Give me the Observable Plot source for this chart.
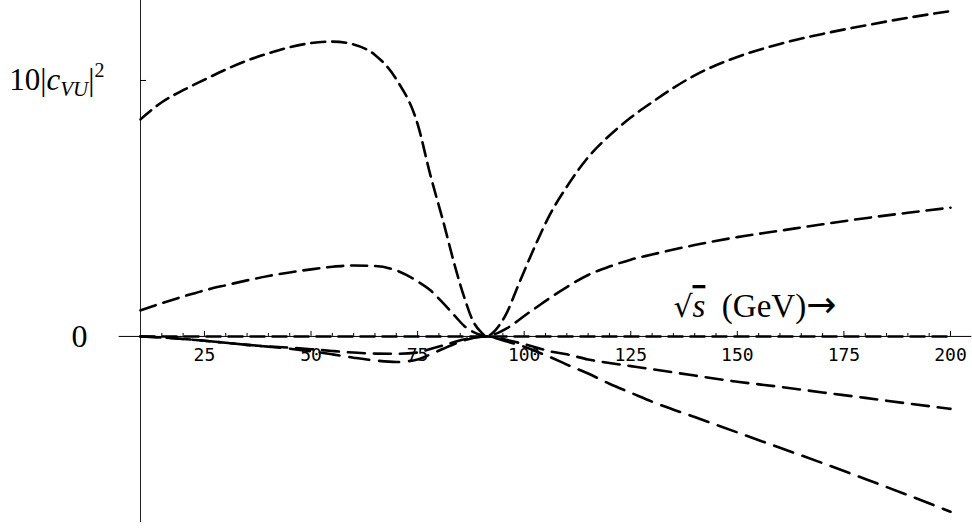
<!DOCTYPE html>
<html>
<head>
<meta charset="utf-8">
<script src="https://cdn.jsdelivr.net/npm/d3@7"></script>
<script src="https://cdn.jsdelivr.net/npm/@observablehq/plot@0.6"></script>
<style>
  html, body { margin: 0; padding: 0; background: #fff; }
  #chart { width: 972px; height: 529px; }
</style>
</head>
<body>
<div id="chart"></div>
<script>
// ---- data ----
const sqrtS = [10, 15, 20, 25, 30, 35, 40, 45, 50, 55, 60, 65, 70, 75, 78, 81, 84, 86, 88, 90, 91.2, 92.5, 94, 96, 98, 100, 103, 106, 110, 115, 120, 125, 130, 140, 150, 160, 170, 180, 190, 200];

const curveA = [0.848, 0.915, 0.962, 1.003, 1.043, 1.078, 1.106, 1.130, 1.146, 1.152, 1.141, 1.100, 1.005, 0.830, 0.630, 0.450, 0.260, 0.150, 0.060, 0.015, 0.000, 0.012, 0.040, 0.095, 0.175, 0.255, 0.370, 0.475, 0.585, 0.700, 0.785, 0.855, 0.915, 1.020, 1.092, 1.143, 1.182, 1.215, 1.245, 1.271];

const curveB = [0.102, 0.130, 0.156, 0.180, 0.200, 0.219, 0.236, 0.250, 0.262, 0.272, 0.277, 0.275, 0.258, 0.215, 0.180, 0.130, 0.075, 0.040, 0.018, 0.005, 0.000, 0.006, 0.015, 0.032, 0.055, 0.080, 0.115, 0.150, 0.193, 0.240, 0.273, 0.300, 0.320, 0.357, 0.388, 0.413, 0.438, 0.462, 0.483, 0.503];

const curveZero = [0, 0, 0, 0, 0, 0, 0, 0, 0, 0, 0, 0, 0, 0, 0, 0, 0, 0, 0, 0, 0, 0, 0, 0, 0, 0, 0, 0, 0, 0, 0, 0, 0, 0, 0, 0, 0, 0, 0, 0];

const curveD = [0.000, -0.004, -0.010, -0.017, -0.025, -0.033, -0.039, -0.044, -0.050, -0.057, -0.063, -0.067, -0.068, -0.063, -0.049, -0.035, -0.020, -0.011, -0.004, -0.001, 0.000, -0.002, -0.006, -0.014, -0.022, -0.030, -0.044, -0.058, -0.070, -0.090, -0.104, -0.116, -0.128, -0.153, -0.177, -0.197, -0.219, -0.240, -0.262, -0.283];

const curveE = [0.000, -0.004, -0.010, -0.017, -0.025, -0.033, -0.040, -0.048, -0.058, -0.070, -0.083, -0.094, -0.100, -0.090, -0.070, -0.048, -0.027, -0.015, -0.006, -0.001, 0.000, -0.003, -0.010, -0.020, -0.030, -0.040, -0.060, -0.080, -0.110, -0.145, -0.185, -0.220, -0.255, -0.315, -0.375, -0.435, -0.495, -0.557, -0.620, -0.685];

const majorTicks = [25, 50, 75, 100, 125, 150, 175, 200];
const minorTicks = [15, 20, 30, 35, 40, 45, 55, 60, 65, 70, 80, 85, 90, 95, 105, 110, 115, 120, 130, 135, 140, 145, 155, 160, 165, 170, 180, 185, 190, 195];
const yTickZeroLabel = "0";
const yTickOneLabel = "10|cVU|2";
const xAxisLabel = "√s (GeV)→";

// ---- layout ----
const W = 972, H = 529;
const marginTop = 0, marginBottom = 7, marginLeft = 140, marginRight = 22;
const xDomain = [10, 200];
const yDomain = [-0.727, 1.3125];
const pxPerY = (H - marginTop - marginBottom) / (yDomain[1] - yDomain[0]);
const pxPerX = (W - marginLeft - marginRight) / (xDomain[1] - xDomain[0]);
const xAxisExtent = [5, 205];

const series = [
  {values: curveA, dash: "14,7"},
  {values: curveB, dash: "16,8"},
  {values: curveZero, dash: "14,8"},
  {values: curveD, dash: "17,9"},
  {values: curveE, dash: "20,10"}
];

const lineMarks = series.map(s =>
  Plot.line(sqrtS.map((x, i) => ({x, y: s.values[i]})), {
    x: "x", y: "y", stroke: "#000", strokeWidth: 2.6,
    strokeDasharray: s.dash, curve: "monotone-x"
  })
);

const serif = "'Liberation Serif', 'DejaVu Serif', serif";
const mono = "'DejaVu Sans Mono', 'Liberation Mono', monospace";

const chart = Plot.plot({
  width: W, height: H,
  marginTop, marginBottom, marginLeft, marginRight,
  x: {domain: xDomain, axis: null},
  y: {domain: yDomain, axis: null},
  style: {background: "#fff", overflow: "visible"},
  marks: [
    // axis lines
    Plot.ruleY([0], {x1: xAxisExtent[0], x2: xAxisExtent[1], stroke: "#000", strokeWidth: 1}),
    Plot.ruleX([xDomain[0]], {stroke: "#222", strokeWidth: 1}),
    // x ticks (pointing up)
    Plot.ruleX(minorTicks, {x: d => d, y1: 0, y2: 3 / pxPerY, stroke: "#000", strokeWidth: 1}),
    Plot.ruleX(majorTicks, {x: d => d, y1: 0, y2: 5 / pxPerY, stroke: "#000", strokeWidth: 1}),
    // y tick at 1
    Plot.ruleY([1], {x1: xDomain[0], x2: xDomain[0] + 6 / pxPerX, stroke: "#000", strokeWidth: 1}),
    // curves
    ...lineMarks,
    // x tick labels
    Plot.text(majorTicks, {x: d => d, y: 0, dy: 19, text: d => String(d), fontFamily: mono, fontSize: 18, fill: "#000", lineAnchor: "middle"}),
    // y tick labels
    Plot.text([yTickZeroLabel], {x: xDomain[0], y: 0, dx: -53, text: d => d, textAnchor: "end", fontFamily: serif, fontSize: 32, fill: "#000", lineAnchor: "middle"}),
    Plot.text([yTickOneLabel], {x: xDomain[0], y: 1, dx: -36, text: d => d, textAnchor: "end", fontFamily: serif, fontSize: 31, fill: "#000", lineAnchor: "middle"}),
    // x axis label
    Plot.text([xAxisLabel], {x: 135, y: 0, dy: -30, text: d => d, textAnchor: "start", fontFamily: serif, fontSize: 33, fill: "#000", lineAnchor: "middle"})
  ]
});

// rich-text formatting of labels
const svg = d3.select(chart);
svg.selectAll("text").each(function () {
  const t = d3.select(this);
  const s = this.textContent;
  if (s === yTickOneLabel) {
    t.text(null);
    t.append("tspan").text("10|");
    t.append("tspan").attr("font-style", "italic").text("c");
    t.append("tspan").attr("font-style", "italic").attr("font-size", 21).attr("dy", 6).text("VU");
    t.append("tspan").attr("dy", -6).text("|");
    t.append("tspan").attr("font-size", 20).attr("dy", -13).text("2");
  } else if (s === xAxisLabel) {
    t.text(null);
    t.append("tspan").attr("font-family", "'DejaVu Serif', serif").attr("font-size", 30).text("√");
    t.append("tspan").attr("font-style", "italic").attr("text-decoration", "overline").text("s");
    t.append("tspan").text("\u2002(GeV)");
    t.append("tspan").attr("font-family", "'DejaVu Sans', sans-serif").attr("font-size", 36).text("→");
  }
});

document.getElementById("chart").appendChild(chart);
</script>
</body>
</html>
